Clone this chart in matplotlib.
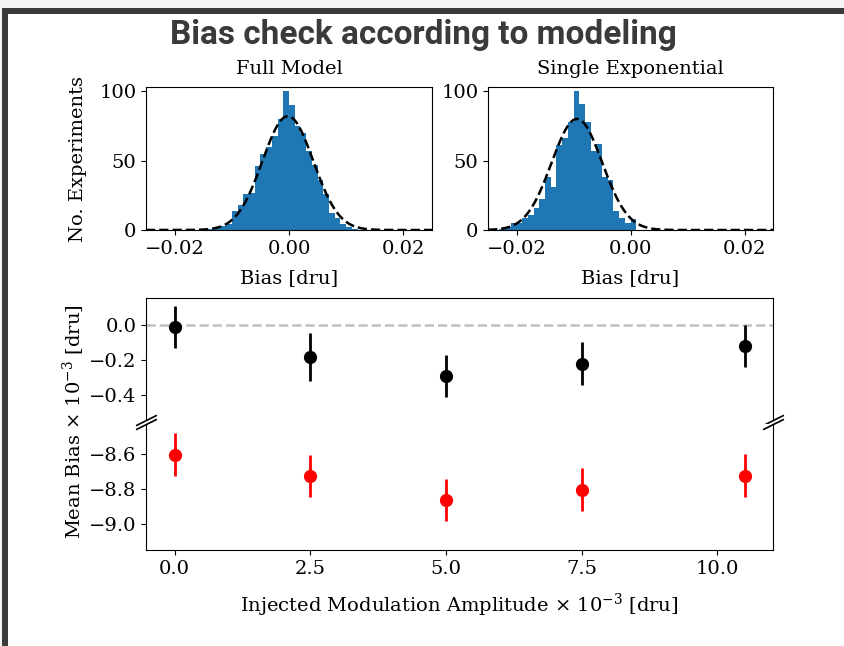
import numpy as np
import matplotlib
matplotlib.use("Agg")
import matplotlib.pyplot as plt
from matplotlib.patches import Rectangle

# ---- data ----
BIN_WIDTH = 0.001

full_first_edge = -0.016
full_counts = [0, 1, 1, 2, 3, 4, 14, 18, 26, 27, 46, 55, 60, 68, 80, 100,
               90, 75, 70, 57, 47, 36, 26, 12, 9, 4, 2, 1, 0]
full_fit = dict(mu=-0.0002, sigma=0.00444, amp=82.0)

single_first_edge = -0.023
single_counts = [1, 2, 5, 5, 9, 11, 16, 22, 38, 31, 61, 66, 78, 100, 91,
                 78, 57, 62, 38, 36, 14, 9, 5, 8, 0]
single_fit = dict(mu=-0.0094, sigma=0.00444, amp=80.0)

amplitudes = [0.0, 2.5, 5.0, 7.5, 10.5]
full_bias = [-0.01, -0.18, -0.29, -0.22, -0.12]
full_err = [0.12, 0.137, 0.12, 0.122, 0.12]
single_bias = [-8.605, -8.727, -8.863, -8.805, -8.725]
single_err = [0.122, 0.121, 0.121, 0.123, 0.122]

W, H = 844, 646
plt.rcParams["font.family"] = "DejaVu Serif"
plt.rcParams["mathtext.fontset"] = "dejavuserif"
plt.rcParams["font.size"] = 14

fig = plt.figure(figsize=(W / 100, H / 100), dpi=100)


def box(x0, y0, x1, y1):
    """pixel box (top-left origin) -> figure-fraction rect"""
    return [x0 / W, 1 - y1 / H, (x1 - x0) / W, (y1 - y0) / H]


# slide frame
for (x0, y0, x1, y1, c) in [(0, 0, W, 8, "#f4f4f2"), (0, 0, 2, H, "#f4f4f2"),
                            (2, 8, W, 14, "#3a3a3a"), (2, 8, 8, H, "#3a3a3a")]:
    r = box(x0, y0, x1, y1)
    fig.patches.append(Rectangle((r[0], r[1]), r[2], r[3], transform=fig.transFigure,
                                 color=c, lw=0, zorder=-5))

fig.text(0.502, 1 - 35 / H, "Bias check according to modeling", ha="center", va="center",
         fontsize=24, fontweight="bold", color="#3a3a3a",
         family=["Open Sans SemiCondensed", "Roboto", "DejaVu Sans"])


def hist_panel(rect, first_edge, counts, fit, title, ylabel=None):
    ax = fig.add_axes(rect)
    edges = first_edge + BIN_WIDTH * np.arange(len(counts) + 1)
    ax.bar(edges[:-1], counts, width=BIN_WIDTH, align="edge", color="#1f77b4", lw=0)
    x = np.linspace(-0.025, 0.025, 400)
    ax.plot(x, fit["amp"] * np.exp(-0.5 * ((x - fit["mu"]) / fit["sigma"]) ** 2),
            "k--", lw=1.8)
    ax.set_xlim(-0.025, 0.025)
    ax.set_ylim(0, 103)
    ax.set_xticks([-0.02, 0.0, 0.02])
    ax.set_yticks([0, 50, 100])
    ax.set_title(title, fontsize=14, pad=9)
    ax.set_xlabel("Bias [dru]", labelpad=8)
    if ylabel:
        ax.set_ylabel(ylabel, labelpad=9)
    return ax


hist_panel(box(146, 87, 432, 230), full_first_edge, full_counts, full_fit,
           "Full Model", "No. Experiments")
hist_panel(box(488, 87, 773, 230), single_first_edge, single_counts, single_fit,
           "Single Exponential")

# broken-axis panel
ax_top = fig.add_axes(box(146, 298, 773, 420))
ax_bot = fig.add_axes(box(146, 424, 773, 550), sharex=ax_top)

ax_top.axhline(0, color="#c0c0c0", ls="--", lw=1.8, zorder=0)
ax_top.errorbar(amplitudes, full_bias, yerr=full_err, fmt="o", color="k",
                ms=8.5, elinewidth=2)
ax_bot.errorbar(amplitudes, single_bias, yerr=single_err, fmt="o", color="red",
                ms=8.5, elinewidth=2)

ax_top.set_ylim(-0.54, 0.155)
ax_bot.set_ylim(-9.15, -8.43)
ax_top.set_yticks([0.0, -0.2, -0.4])
ax_bot.set_yticks([-8.6, -8.8, -9.0])
ax_bot.set_xticks([0.0, 2.5, 5.0, 7.5, 10.0])
ax_top.spines["bottom"].set_visible(False)
ax_bot.spines["top"].set_visible(False)
ax_top.tick_params(axis="x", bottom=False, labelbottom=False)

kw = dict(marker=[(-1, -0.5), (1, 0.5)], markersize=15, linestyle="none",
          color="k", mec="k", mew=1.2, clip_on=False)
ax_top.plot([0, 1], [0, 0], transform=ax_top.transAxes, **kw)
ax_bot.plot([0, 1], [1, 1], transform=ax_bot.transAxes, **kw)

ax_bot.set_xlabel("Injected Modulation Amplitude × 10$^{-3}$ [dru]", labelpad=10)
fig.text(74 / W, 1 - 422 / H, "Mean Bias × 10$^{-3}$ [dru]", rotation=90,
         ha="center", va="center")

fig.savefig("out.png", dpi=100)
